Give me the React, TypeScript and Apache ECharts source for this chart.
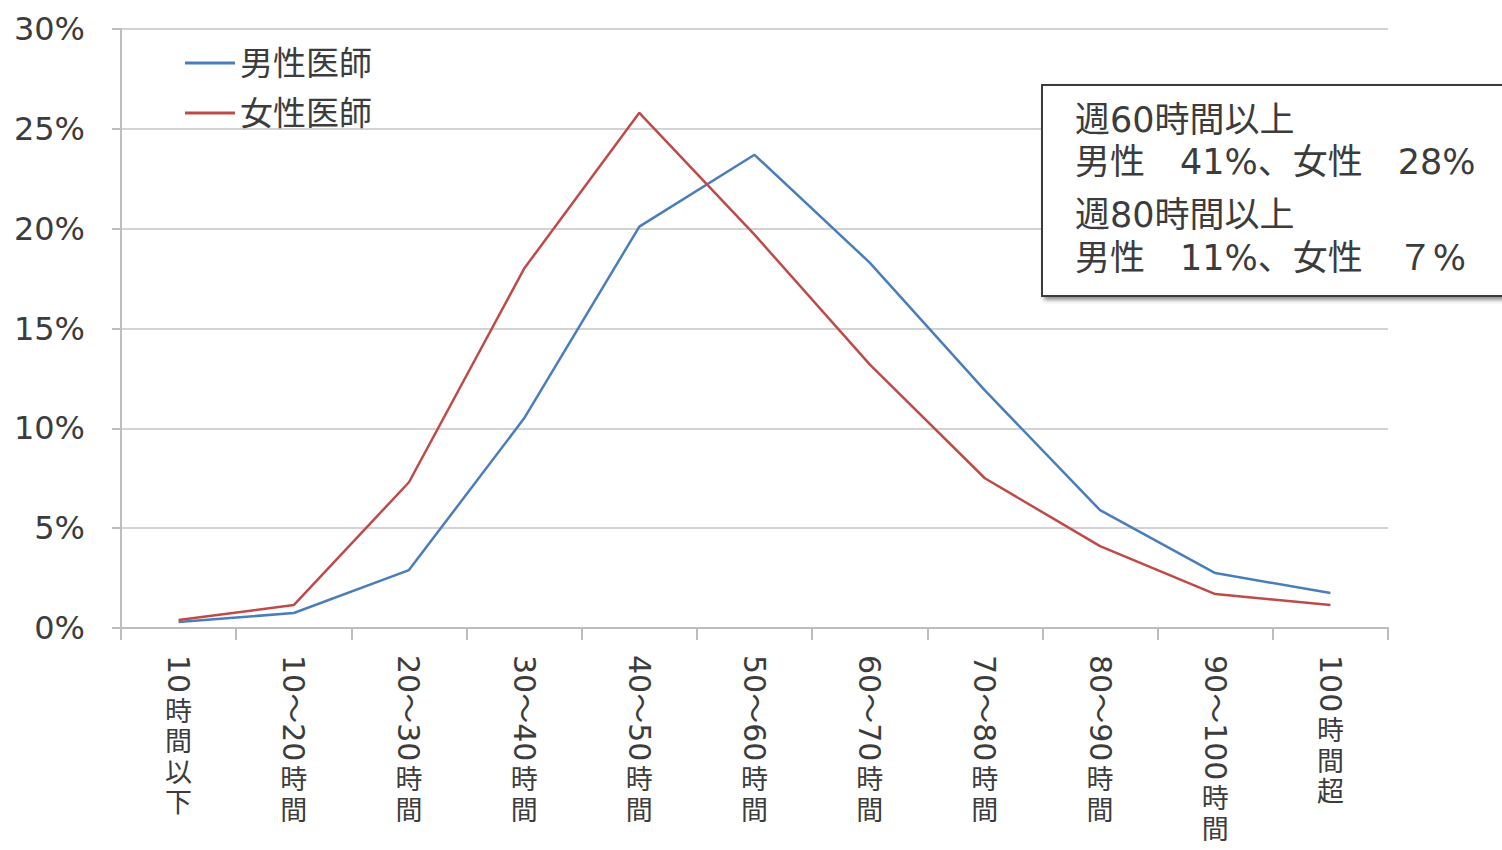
import React, { useEffect, useRef } from "react";
import * as echarts from "echarts";

const categories = [
  "10時間以下",
  "10～20時間",
  "20～30時間",
  "30～40時間",
  "40～50時間",
  "50～60時間",
  "60～70時間",
  "70～80時間",
  "80～90時間",
  "90～100時間",
  "100時間超",
];
const seriesNames = ["男性医師", "女性医師"];
const maleValues = [0.3, 0.75, 2.9, 10.5, 20.1, 23.7, 18.3, 11.9, 5.9, 2.75, 1.75];
const femaleValues = [0.4, 1.15, 7.3, 18.0, 25.8, 19.7, 13.2, 7.5, 4.1, 1.7, 1.15];
const yMin = 0;
const yMax = 30;
const yInterval = 5;
const noteLines = [
  "週60時間以上",
  "男性　41%、女性　28%",
  "週80時間以上",
  "男性　11%、女性　７%",
];

const FONT = '"DejaVu Sans", "Noto Sans CJK JP", sans-serif';
const TEXT_COLOR = "#3c3c3c";
const BLUE = "#4a7ebb";
const RED = "#be4b48";

function measure(text: string, size: number): number {
  const c = document.createElement("canvas").getContext("2d");
  if (!c) return text.length * size * 0.6;
  c.font = `${size}px ${FONT}`;
  return c.measureText(text).width;
}

function splitRuns(label: string): { text: string; rotated: boolean }[] {
  const runs: { text: string; rotated: boolean }[] = [];
  for (const ch of label) {
    const rot = /[0-9～~]/.test(ch);
    const last = runs[runs.length - 1];
    if (rot && last && last.rotated) last.text += ch;
    else runs.push({ text: ch, rotated: rot });
  }
  return runs;
}

export default function App() {
  const ref = useRef<HTMLDivElement>(null);
  useEffect(() => {
    if (!ref.current) return;
    const chart = echarts.init(ref.current, null, { renderer: "svg" });
    const option: any = {
      animation: false,
      backgroundColor: "#ffffff",
      grid: { left: 121, right: 114, top: 29, bottom: 222, containLabel: false },
      legend: {
        orient: "vertical",
        left: 180,
        top: 38,
        icon: "rect",
        itemWidth: 50,
        itemHeight: 3,
        itemGap: 10,
        data: seriesNames,
        textStyle: {
          fontFamily: FONT,
          fontSize: 33,
          color: TEXT_COLOR,
          lineHeight: 40,
          padding: [0, 0, 0, 0],
        },
      },
      xAxis: {
        type: "category",
        data: categories,
        boundaryGap: true,
        axisLine: { show: true, lineStyle: { color: "#bdbdbd", width: 2 } },
        axisTick: { show: true, length: 12, alignWithLabel: false, lineStyle: { color: "#bdbdbd", width: 2 } },
        axisLabel: { show: false },
        splitLine: { show: false },
      },
      yAxis: {
        type: "value",
        min: yMin,
        max: yMax,
        interval: yInterval,
        axisLine: { show: true, lineStyle: { color: "#bdbdbd", width: 2 } },
        axisTick: { show: true, length: 9, lineStyle: { color: "#bdbdbd", width: 2 } },
        axisLabel: {
          formatter: "{value}%",
          fontFamily: FONT,
          fontSize: 32,
          color: TEXT_COLOR,
          margin: 36,
        },
        splitLine: { show: true, lineStyle: { color: "#c4c4c4", width: 1.5 } },
      },
      series: [
        {
          name: seriesNames[0],
          type: "line",
          data: maleValues,
          symbol: "none",
          color: BLUE,
          lineStyle: { color: BLUE, width: 2.5 },
        },
        {
          name: seriesNames[1],
          type: "line",
          data: femaleValues,
          symbol: "none",
          color: RED,
          lineStyle: { color: RED, width: 2.5 },
        },
      ],
    };
    chart.setOption(option);

    // vertical (tategaki-style) category labels
    const labelEls: any[] = [];
    const axisY = chart.convertToPixel({ yAxisIndex: 0 }, 0) as number;
    const digitSize = 30;
    const cjkSize = 27;
    const cjkStep = 30.5;
    categories.forEach((cat, i) => {
      const cx = chart.convertToPixel({ xAxisIndex: 0 }, i) as number;
      let y = axisY + 27;
      splitRuns(cat).forEach((run) => {
        if (run.rotated) {
          const w = measure(run.text, digitSize);
          labelEls.push({
            type: "text",
            x: cx,
            y: y,
            rotation: -Math.PI / 2,
            silent: true,
            style: {
              text: run.text,
              font: `${digitSize}px ${FONT}`,
              fill: TEXT_COLOR,
              textAlign: "left",
              textVerticalAlign: "middle",
              align: "left",
              verticalAlign: "middle",
            },
          });
          y += w + 3;
        } else {
          labelEls.push({
            type: "text",
            x: cx,
            y: y + (cjkStep - cjkSize) / 2,
            silent: true,
            style: {
              text: run.text,
              font: `${cjkSize}px ${FONT}`,
              fill: TEXT_COLOR,
              textAlign: "center",
              textVerticalAlign: "top",
              align: "center",
              verticalAlign: "top",
            },
          });
          y += cjkStep;
        }
      });
    });

    const noteY = [120, 162, 215, 258];
    const noteEls: any[] = [
      {
        type: "rect",
        shape: { x: 1042, y: 85, width: 490, height: 211 },
        silent: true,
        style: {
          fill: "#ffffff",
          stroke: "#3a3a3a",
          lineWidth: 2,
          shadowBlur: 4,
          shadowOffsetX: 3,
          shadowOffsetY: 3,
          shadowColor: "rgba(0,0,0,0.45)",
        },
        z: 10,
      },
      ...noteLines.map((t, i) => ({
        type: "text",
        x: 1075,
        y: noteY[i],
        silent: true,
        z: 11,
        style: {
          text: t,
          font: `35px ${FONT}`,
          fill: TEXT_COLOR,
          textAlign: "left",
          textVerticalAlign: "middle",
          align: "left",
          verticalAlign: "middle",
        },
      })),
    ];

    chart.setOption({ graphic: [...noteEls, ...labelEls] });
    return () => chart.dispose();
  }, []);

  return (
    <div
      ref={ref}
      style={{ position: "absolute", left: 0, top: 0, width: 1502, height: 850 }}
    />
  );
}
